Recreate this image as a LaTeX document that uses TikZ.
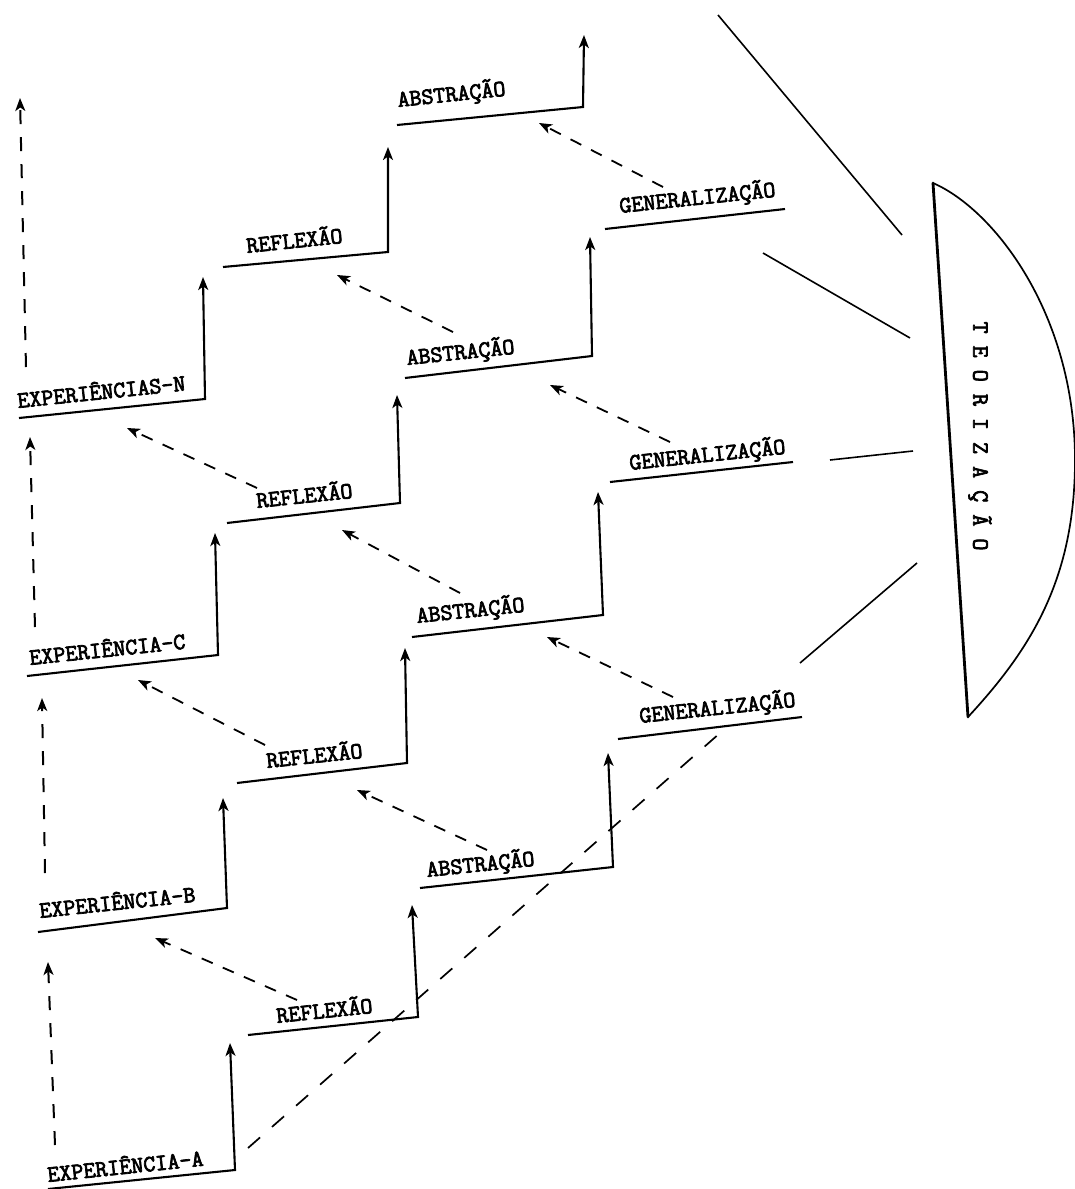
\documentclass[tikz,border=0pt]{standalone}
\usepackage{fontspec}
\newfontfamily\twfont{Latin Modern Mono}[FakeBold=3]
\usetikzlibrary{arrows.meta}
\begin{document}
\begin{tikzpicture}[x=1pt,y=-1pt,
  tipA/.tip={Stealth[length=13pt,width=10pt,inset=3.5pt]},
  stair/.style={line width=2.1pt, line join=miter, -tipA},
  flat/.style={line width=2.1pt},
  dsh/.style={line width=1.8pt, dash pattern=on 12pt off 11pt, -tipA},
  vdsh/.style={line width=2pt, dash pattern=on 14pt off 13pt, -tipA},
  longdsh/.style={line width=1.7pt, dash pattern=on 16pt off 16pt},
  fan/.style={line width=1.6pt},
  tw/.style={font=\twfont\fontsize{23.4}{26}\selectfont},
  lbl/.style={tw, anchor=base west, inner sep=0pt, rotate=6}]
\useasboundingbox (0,0) rectangle (1075,1189);

% ---------- stair coordinates ----------
% column 1
\coordinate (ea0) at (48,1189);  \coordinate (ea1) at (235,1170); \coordinate (ea2) at (230,1043);
\coordinate (r10) at (248,1035); \coordinate (r11) at (418,1017); \coordinate (r12) at (412,905);
\coordinate (a10) at (420,888);  \coordinate (a11) at (613,867);  \coordinate (a12) at (608,753);
\coordinate (g10) at (618,739);  \coordinate (g11) at (802,717);
% column 2
\coordinate (eb0) at (38,932);   \coordinate (eb1) at (227,908);  \coordinate (eb2) at (223,798);
\coordinate (r20) at (237,783);  \coordinate (r21) at (407,763);  \coordinate (r22) at (405,648);
\coordinate (a20) at (412,637);  \coordinate (a21) at (603,615);  \coordinate (a22) at (598,492);
\coordinate (g20) at (610,482);  \coordinate (g21) at (793,462);
% column 3
\coordinate (ec0) at (27,676);   \coordinate (ec1) at (218,655);  \coordinate (ec2) at (215,533);
\coordinate (r30) at (227,523);  \coordinate (r31) at (400,503);  \coordinate (r32) at (397,395);
\coordinate (a30) at (405,378);  \coordinate (a31) at (592,356);  \coordinate (a32) at (590,237);
\coordinate (g30) at (605,229);  \coordinate (g31) at (785,209);
% column 4
\coordinate (en0) at (19,418);   \coordinate (en1) at (205,399);  \coordinate (en2) at (203,277);
\coordinate (r40) at (223,267);  \coordinate (r41) at (388,252);  \coordinate (r42) at (388,147);
\coordinate (a40) at (397,125);  \coordinate (a41) at (583,107);  \coordinate (a42) at (584,35);

% ---------- stairs ----------
\draw[stair] (ea0) -- (ea1) -- (ea2);
\draw[stair] (r10) -- (r11) -- (r12);
\draw[stair] (a10) -- (a11) -- (a12);
\draw[flat]  (g10) -- (g11);
\draw[stair] (eb0) -- (eb1) -- (eb2);
\draw[stair] (r20) -- (r21) -- (r22);
\draw[stair] (a20) -- (a21) -- (a22);
\draw[flat]  (g20) -- (g21);
\draw[stair] (ec0) -- (ec1) -- (ec2);
\draw[stair] (r30) -- (r31) -- (r32);
\draw[stair] (a30) -- (a31) -- (a32);
\draw[flat]  (g30) -- (g31);
\draw[stair] (en0) -- (en1) -- (en2);
\draw[stair] (r40) -- (r41) -- (r42);
\draw[stair] (a40) -- (a41) -- (a42);

% ---------- labels ----------
\node[lbl] (tEA) at (48,1182) {EXPERIÊNCIA-A};
\node[lbl] (tR1) at (277,1023) {REFLEXÃO};
\node[lbl] (tA1) at (427,877) {ABSTRAÇÃO};
\node[lbl] (tG1) at (640,723) {GENERALIZAÇÃO};
\node[lbl] (tEB) at (40,918) {EXPERIÊNCIA-B};
\node[lbl] (tR2) at (267,768) {REFLEXÃO};
\node[lbl] (tA2) at (417,623) {ABSTRAÇÃO};
\node[lbl] (tG2) at (630,470) {GENERALIZAÇÃO};
\node[lbl] (tEC) at (30,665) {EXPERIÊNCIA-C};
\node[lbl] (tR3) at (257,508) {REFLEXÃO};
\node[lbl] (tA3) at (407,365) {ABSTRAÇÃO};
\node[lbl] (tG3) at (620,213) {GENERALIZAÇÃO};
\node[lbl] (tEN) at (18,408) {EXPERIÊNCIAS-N};
\node[lbl] (tR4) at (247,253) {REFLEXÃO};
\node[lbl] (tA4) at (398,107) {ABSTRAÇÃO};

% ---------- dashed diagonal arrows ----------
\coordinate (d1s) at (297,1000); \coordinate (d1e) at (155,938);
\coordinate (d2s) at (487,850);  \coordinate (d2e) at (357,790);
\coordinate (d3s) at (673,697);  \coordinate (d3e) at (547,637);
\coordinate (d4s) at (265,745);  \coordinate (d4e) at (138,680);
\coordinate (d5s) at (460,593);  \coordinate (d5e) at (342,530);
\coordinate (d6s) at (670,442);  \coordinate (d6e) at (550,385);
\coordinate (d7s) at (257,488);  \coordinate (d7e) at (127,428);
\coordinate (d8s) at (453,332);  \coordinate (d8e) at (337,275);
\coordinate (d9s) at (663,187);  \coordinate (d9e) at (539,123);
\foreach \i in {1,...,9} \draw[dsh] (d\i s) -- (d\i e);

% ---------- left dashed verticals ----------
\coordinate (v1s) at (55,1145); \coordinate (v1e) at (48,962);
\coordinate (v2s) at (45,873);  \coordinate (v2e) at (42,698);
\coordinate (v3s) at (35,627);  \coordinate (v3e) at (30,437);
\coordinate (v4s) at (26,367);  \coordinate (v4e) at (20,98);
\foreach \i in {1,...,4} \draw[vdsh] (v\i s) -- (v\i e);

% ---------- long dashed line ----------
\coordinate (ls) at (248,1148); \coordinate (le) at (720,733);
\draw[longdsh] (ls) -- (le);

% ---------- fan lines ----------
\coordinate (f1s) at (718,15);  \coordinate (f1e) at (902,235);
\coordinate (f2s) at (763,253); \coordinate (f2e) at (910,338);
\coordinate (f3s) at (830,460); \coordinate (f3e) at (913,451);
\coordinate (f4s) at (800,663); \coordinate (f4e) at (917,563);
\foreach \i in {1,...,4} \draw[fan] (f\i s) -- (f\i e);

% ---------- Teorizacao ----------
\coordinate (tt) at (933,183); \coordinate (tr) at (1075,460); \coordinate (tb) at (968,717);
\draw[line width=1.7pt] (tt) .. controls (995,210) and (1075,315) .. (tr)
  .. controls (1075,580) and (1030,650) .. (tb);
\draw[line width=2.8pt, line cap=round] (tt) -- (tb);
\node[tw, rotate=-90, inner sep=0pt] (teo) at (980,436) {T E O R I Z A Ç Ã O};
\end{tikzpicture}
\end{document}
